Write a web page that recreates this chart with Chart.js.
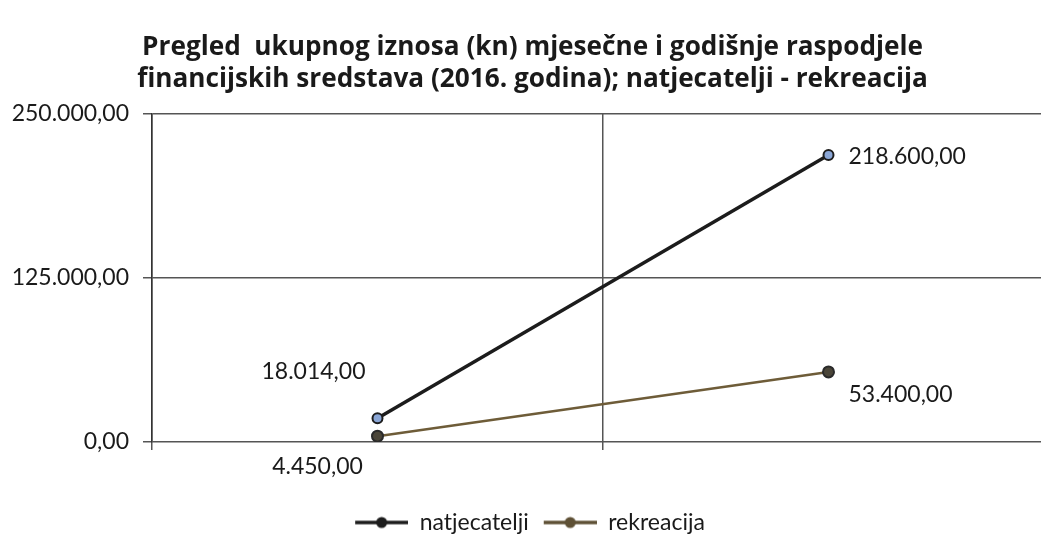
<!DOCTYPE html>
<html>
<head>
<meta charset="utf-8">
<script src="https://cdn.jsdelivr.net/npm/chart.js@4/dist/chart.umd.min.js"></script>
<style>
  html, body { margin: 0; padding: 0; background: #fff; }
  #wrap { width: 1041px; height: 540px; }
</style>
</head>
<body>
<div id="wrap"><canvas id="chart" width="1041" height="540"></canvas></div>
<script>
// --- DATA ---
const categories = ['mjesečno', 'godišnje'];
const natjecatelji = [18014, 218600];
const rekreacija = [4450, 53400];
const yTicks = [0, 125000, 250000];
const titleLines = [
    'Pregled  ukupnog iznosa (kn) mjesečne i godišnje raspodjele',
    'financijskih sredstava (2016. godina); natjecatelji - rekreacija'
];

const FONT = 'Lato, "Open Sans", sans-serif';
const TITLE_FONT = '"Open Sans", Lato, sans-serif';
const PLOT_RIGHT = 1054; // original plot runs past the right edge of the picture

// 250000 -> "250.000,00"
function fmt(v) {
    const parts = Math.round(v).toString().replace(/\B(?=(\d{3})+(?!\d))/g, '.');
    return parts + ',00';
}

// pick a title size so the first line is about as wide as in the original
function titleSize() {
    const g = document.createElement('canvas').getContext('2d');
    g.font = 'bold 20px ' + TITLE_FONT;
    const w = g.measureText(titleLines[0]).width;
    return Math.round(20 * 782 / w * 10) / 10;
}

// legend marker: line with a dot in the middle (small blank margin on the left)
function legendMarker(color, dotFill) {
    const c = document.createElement('canvas');
    c.width = 60; c.height = 14;
    const g = c.getContext('2d');
    g.strokeStyle = color; g.lineWidth = 3.5;
    g.beginPath(); g.moveTo(7, 7); g.lineTo(60, 7); g.stroke();
    g.fillStyle = dotFill;
    g.beginPath(); g.arc(33.5, 7, 5.5, 0, Math.PI * 2); g.fill();
    return c;
}

// label placement per dataset / point (style only)
const labelPos = [
    [{ dx: -64, dy: -47, align: 'center' }, { dx: 20, dy: 1, align: 'left' }],
    [{ dx: -60, dy: 30, align: 'center' }, { dx: 20, dy: 23, align: 'left' }]
];

const valueLabels = {
    id: 'valueLabels',
    afterDatasetsDraw(chart) {
        const ctx = chart.ctx;
        ctx.save();
        ctx.font = '23px ' + FONT;
        ctx.fillStyle = '#1a1a1a';
        ctx.textBaseline = 'middle';
        chart.data.datasets.forEach((ds, di) => {
            chart.getDatasetMeta(di).data.forEach((pt, i) => {
                const p = labelPos[di][i];
                ctx.textAlign = p.align;
                ctx.fillText(fmt(ds.data[i]), pt.x + p.dx, pt.y + p.dy);
            });
        });
        ctx.restore();
    }
};

// stretch the plot past the canvas edge, nudge title and legend
const layoutTweak = {
    id: 'layoutTweak',
    afterLayout(chart) {
        const a = chart.chartArea;
        a.right = PLOT_RIGHT;
        a.width = a.right - a.left;
        const x = chart.scales.x;
        x.right = PLOT_RIGHT;
        x.width = x.right - x.left;
        x.configure();
        const l = chart.legend;
        if (l) { l.left += 6; l.right += 6; l.top += 4; l.bottom += 4; }
        const t = chart.titleBlock;
        if (t) { t.left += 12; t.right += 12; }
    }
};

new Chart(document.getElementById('chart'), {
    type: 'line',
    data: {
        labels: categories,
        datasets: [
            {
                label: 'natjecatelji',
                data: natjecatelji,
                borderColor: '#1c1c1c',
                borderWidth: 3.5,
                pointRadius: 5,
                pointBorderWidth: 2,
                pointBackgroundColor: '#8aa6d6',
                pointBorderColor: '#1c1c1c',
                tension: 0
            },
            {
                label: 'rekreacija',
                data: rekreacija,
                borderColor: '#6e5c38',
                borderWidth: 2.5,
                pointRadius: 5.5,
                pointBorderWidth: 2,
                pointBackgroundColor: '#4a4538',
                pointBorderColor: '#2a2a2a',
                tension: 0
            }
        ]
    },
    options: {
        responsive: false,
        animation: false,
        plugins: {
            title: {
                display: true,
                text: titleLines,
                color: '#1a1a1a',
                font: { family: TITLE_FONT, size: titleSize(), weight: 'bold', lineHeight: 1.2 },
                padding: { top: 32, bottom: 19 }
            },
            legend: {
                position: 'bottom',
                labels: {
                    color: '#1a1a1a',
                    font: { family: FONT, size: 23 },
                    usePointStyle: true,
                    pointStyleWidth: 60,
                    padding: 8,
                    generateLabels(chart) {
                        const items = Chart.defaults.plugins.legend.labels.generateLabels(chart);
                        items[0].pointStyle = legendMarker('#1c1c1c', '#1c1c1c');
                        items[1].pointStyle = legendMarker('#5e5035', '#5e5035');
                        return items;
                    }
                }
            },
            tooltip: { enabled: false }
        },
        scales: {
            x: {
                offset: true,
                grid: { offset: true, color: '#555', lineWidth: 1.5, tickLength: 8 },
                border: { display: false },
                ticks: { display: false },
                afterFit(scale) { scale.height = 57; }
            },
            y: {
                min: 0,
                max: 250000,
                afterBuildTicks(scale) { scale.ticks = yTicks.map(v => ({ value: v })); },
                grid: { color: '#555', lineWidth: 1.5, tickLength: 9 },
                border: { color: '#333', width: 1.5 },
                ticks: {
                    color: '#1a1a1a',
                    font: { family: FONT, size: 23 },
                    padding: 14,
                    callback: v => fmt(v)
                },
                afterFit(scale) { scale.width = 152; }
            }
        }
    },
    plugins: [valueLabels, layoutTweak]
});
</script>
</body>
</html>
